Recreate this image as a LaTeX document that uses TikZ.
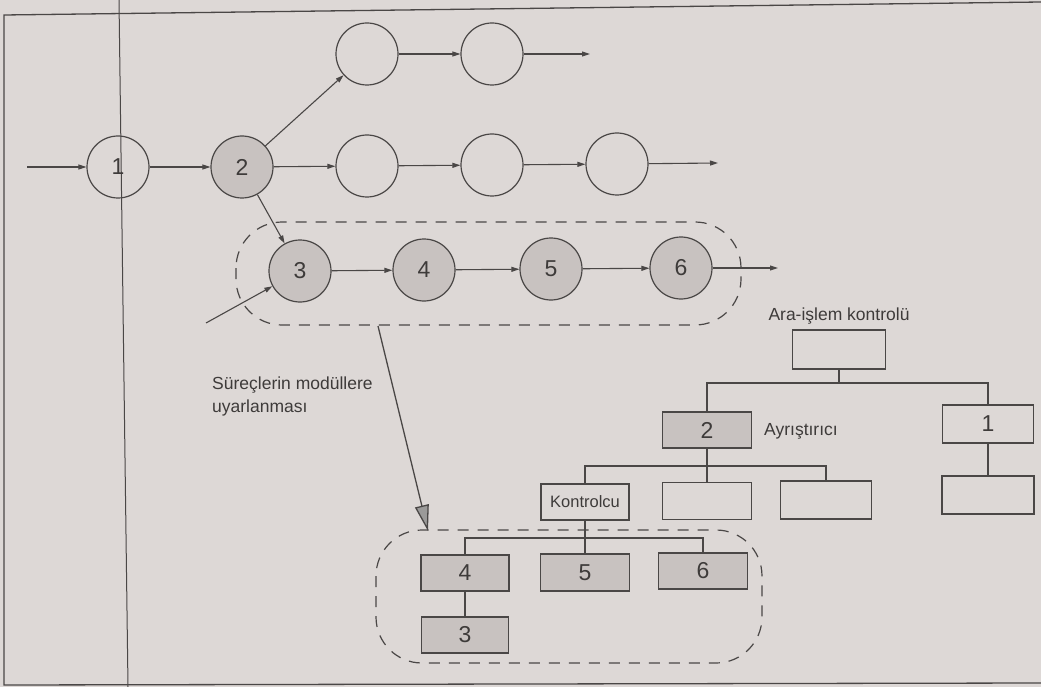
\documentclass[tikz,border=0pt]{standalone}
\usepackage{fontspec}
\setmainfont{Liberation Sans}
\usetikzlibrary{arrows.meta}
\definecolor{paper}{HTML}{DDD8D6}
\definecolor{shade}{HTML}{C8C2C0}
\definecolor{ink}{HTML}{4A4746}
\definecolor{txt}{HTML}{3E3B3A}
\tikzset{
  proc/.style={circle, draw=ink, line width=1.2pt, minimum size=62pt, inner sep=0pt,
    font=\fontsize{23}{26}\selectfont, text=txt},
  procS/.style={proc, fill=shade},
  modbox/.style={rectangle, draw=ink, line width=1.2pt, inner sep=0pt,
    font=\fontsize{23}{26}\selectfont, text=txt},
  modS/.style={modbox, fill=shade},
  flow/.style={draw=ink, line width=1.1pt, -{Triangle[length=8pt,width=5pt]}},
  tie/.style={draw=ink, line width=1.2pt},
  group/.style={draw=ink, line width=1.2pt, dash pattern=on 11pt off 9pt, rounded corners=46pt},
  lbl/.style={font=\fontsize{17.5}{21}\selectfont, text=txt, inner sep=0pt},
}
\begin{document}
\begin{tikzpicture}[x=1pt, y=-1pt]
  \useasboundingbox (0,0) rectangle (1041,687);
  \fill[paper] (0,0) rectangle (1041,687);

  % page frame
  \draw[ink, line width=1.3pt] (1041,2) -- (4,15) -- (4,685) -- (1041,683);
  \draw[ink, line width=1pt] (119,0) -- (128,687);

  % process flow (circles)
  \node[proc]  (c1) at (118,167) {1};
  \node[procS] (c2) at (242,167) {2};
  \node[proc]  (t1) at (367,54) {};
  \node[proc]  (t2) at (492,54) {};
  \node[proc]  (m1) at (367,166) {};
  \node[proc]  (m2) at (492,165) {};
  \node[proc]  (m3) at (617,164) {};
  \node[procS] (p3) at (300,271) {3};
  \node[procS] (p4) at (424,270) {4};
  \node[procS] (p5) at (551,269) {5};
  \node[procS] (p6) at (681,268) {6};

  \coordinate (inA) at (27,167);
  \coordinate (inB) at (206,323);
  \coordinate (outT) at (590,54);
  \coordinate (outM) at (718,163);
  \coordinate (outP) at (778,268);

  \draw[flow] (inA) -- (c1);
  \draw[flow] (c1) -- (c2);
  \draw[flow] (c2) -- (t1);
  \draw[flow] (c2) -- (m1);
  \draw[flow] (c2) -- (p3);
  \draw[flow] (t1) -- (t2);
  \draw[flow] (t2) -- (outT);
  \draw[flow] (m1) -- (m2);
  \draw[flow] (m2) -- (m3);
  \draw[flow] (m3) -- (outM);
  \draw[flow] (inB) -- (p3);
  \draw[flow] (p3) -- (p4);
  \draw[flow] (p4) -- (p5);
  \draw[flow] (p5) -- (p6);
  \draw[flow] (p6) -- (outP);

  % grouped processes
  \draw[group] (236,222) rectangle (741,325);

  % module hierarchy
  \node[lbl] (aralbl) at (839,316) {Ara-işlem kontrolü};
  \node[modbox, minimum width=93pt, minimum height=39pt] (ara) at (839,349.5) {};
  \node[modS, minimum width=89pt, minimum height=36pt] (b2) at (707,430) {2};
  \node[lbl, anchor=west] (aylbl) at (764,431) {Ayrıştırıcı};
  \node[modbox, minimum width=91pt, minimum height=38pt] (b1) at (988,424) {1};
  \node[modbox, minimum width=92pt, minimum height=38pt] (b1b) at (988,495) {};
  \node[modbox, minimum width=88pt, minimum height=36pt, font=\fontsize{16.5}{18}\selectfont] (kon) at (585,502) {Kontrolcu};
  \node[modbox, minimum width=89pt, minimum height=37pt] (mid) at (707,501) {};
  \node[modbox, minimum width=91pt, minimum height=38pt] (rgt) at (826,500) {};
  \node[modS, minimum width=88pt, minimum height=36pt] (b4) at (465,573) {4};
  \node[modS, minimum width=89pt, minimum height=37pt] (b5) at (585,572.5) {5};
  \node[modS, minimum width=89pt, minimum height=36pt] (b6) at (703,571) {6};
  \node[modS, minimum width=87pt, minimum height=36pt] (b3) at (465,635) {3};

  \coordinate (busA) at (839,383);
  \coordinate (busB) at (707,466);
  \coordinate (busC) at (585,538);

  \draw[tie] (ara.south) -- (busA);
  \draw[tie] (b2.north) |- (busA) -| (b1.north);
  \draw[tie] (b1.south) -- (b1b.north);
  \draw[tie] (b2.south) -- (busB);
  \draw[tie] (kon.north) |- (busB) -| (rgt.north);
  \draw[tie] (mid.north) -- (busB);
  \draw[tie] (kon.south) -- (busC);
  \draw[tie] (b4.north) |- (busC) -| (b6.north);
  \draw[tie] (b5.north) -- (busC);
  \draw[tie] (b4.south) -- (b3.north);

  \draw[group] (376,530) rectangle (762,663);

  % mapping of processes to modules
  \coordinate (mapS) at (378,326);
  \coordinate (mapE) at (428,531);
  \draw[draw=ink, line width=1.3pt, -{Triangle[length=26pt,width=14pt,fill=ink!55]}] (mapS) -- (mapE);
  \node[lbl, align=left, anchor=north west] (maplbl) at (212,377) {Süreçlerin modüllere\\[2pt]uyarlanması};
\end{tikzpicture}
\end{document}
